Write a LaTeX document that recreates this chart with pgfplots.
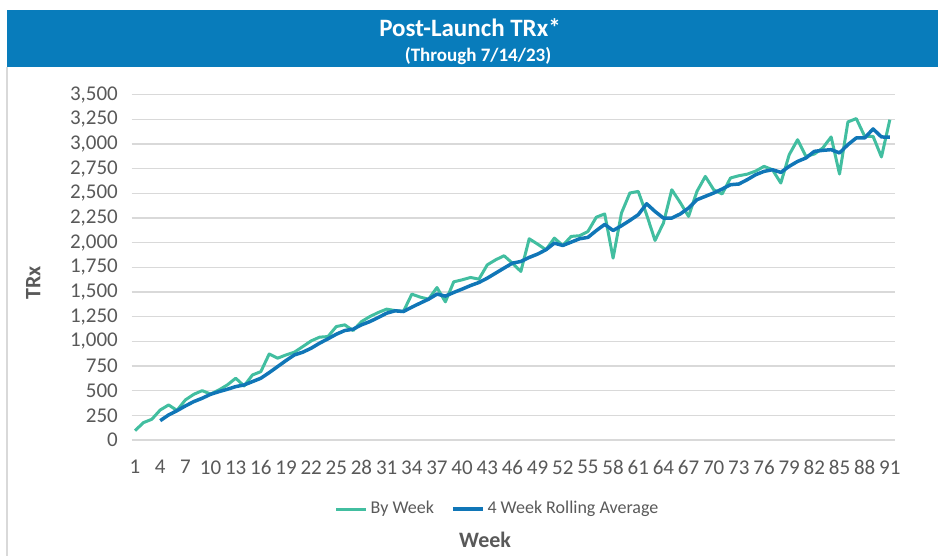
\documentclass[border=0pt]{standalone}
\usepackage{pgfplots}
\pgfplotsset{compat=1.18}
\usepackage{fontspec}
\setmainfont{Carlito}

\definecolor{banner}{RGB}{8,124,187}
\definecolor{weekc}{RGB}{66,190,160}
\definecolor{avgc}{RGB}{16,118,183}
\definecolor{txt}{RGB}{89,89,89}
\definecolor{gridc}{RGB}{217,217,217}

\begin{document}
\begin{tikzpicture}
\useasboundingbox (0,0) rectangle (469pt,-278pt);
% title banner
\fill[banner] (3.5pt,-5pt) rectangle (469pt,-33.5pt);
\node[text=white, font=\fontsize{12.5}{14}\selectfont\bfseries] at (235pt,-14pt) {Post-Launch TRx*};
\node[text=white, font=\fontsize{9.5}{11}\selectfont\bfseries] at (239pt,-28pt) {(Through 7/14/23)};
\draw[gridc, line width=0.6pt] (3.5pt,-33.5pt) -- (3.5pt,-278pt);

\begin{axis}[
  at={(65.85pt,-220pt)}, anchor=south west,
  scale only axis, width=381.6pt, height=172.7pt,
  xmin=0.6, xmax=91.6, ymin=0, ymax=3500,
  xtick={1,4,...,91}, ytick={0,250,...,3500},
  ymajorgrids, grid style={gridc, line width=0.75pt},
  axis x line*=bottom, axis y line*=left,
  axis line style={draw=none},
  major tick length=0pt,
  ticklabel style={font=\fontsize{10.5}{12}\selectfont, text=txt},
  yticklabel style={xshift=-3.4pt},
  xticklabel style={yshift=-6.7pt},
  /pgf/number format/1000 sep={,},
  /pgf/number format/assume math mode=true,
  xlabel={Week}, ylabel={TRx},
  label style={font=\fontsize{11}{13}\selectfont\bfseries, text=txt},
  xlabel style={at={(axis description cs:0.463,-0.29)}, anchor=center},
  ylabel style={at={(axis description cs:-0.129,0.455)}, anchor=center},
  legend style={draw=none, fill=none, legend columns=2,
    at={(0.48,-0.2)}, anchor=center,
    font=\fontsize{9}{10}\selectfont, text=txt,
    nodes={inner sep=1.5pt},
    /tikz/every even column/.append style={column sep=7pt}},
  legend image code/.code={\draw[#1] (0pt,0pt) -- (15pt,0pt);},
]
\addplot[weekc, line width=1.5pt, line join=round, no markers] coordinates {
(1,95)(2,176)(3,210)(4,304)(5,355)(6,300)(7,406)(8,463)(9,500)(10,466)
(11,507)(12,558)(13,626)(14,548)(15,659)(16,693)(17,872)(18,829)(19,862)(20,890)
(21,947)(22,1004)(23,1042)(24,1048)(25,1150)(26,1167)(27,1109)(28,1200)(29,1251)(30,1292)
(31,1326)(32,1312)(33,1302)(34,1478)(35,1448)(36,1427)(37,1545)(38,1400)(39,1603)(40,1623)
(41,1647)(42,1630)(43,1775)(44,1826)(45,1867)(46,1792)(47,1708)(48,2039)(49,1985)(50,1928)
(51,2046)(52,1971)(53,2063)(54,2070)(55,2113)(56,2258)(57,2291)(58,1843)(59,2300)(60,2503)
(61,2519)(62,2283)(63,2022)(64,2198)(65,2536)(66,2407)(67,2266)(68,2519)(69,2671)(70,2536)
(71,2493)(72,2655)(73,2678)(74,2694)(75,2725)(76,2773)(77,2739)(78,2604)(79,2891)(80,3043)
(81,2874)(82,2898)(83,2959)(84,3071)(85,2695)(86,3223)(87,3257)(88,3077)(89,3077)(90,2868)
(91,3246)
};
\addlegendentry{By Week}
\addplot[avgc, line width=1.75pt, line join=round, no markers] coordinates {
(4,196)(5,254)(6,297)(7,345)(8,389)(9,423)(10,463)
(11,490)(12,514)(13,541)(14,558)(15,592)(16,626)(17,683)(18,744)(19,805)(20,862)
(21,890)(22,930)(23,981)(24,1025)(25,1072)(26,1109)(27,1123)(28,1167)(29,1200)(30,1241)
(31,1285)(32,1309)(33,1302)(34,1346)(35,1387)(36,1427)(37,1478)(38,1458)(39,1495)(40,1529)
(41,1565)(42,1596)(43,1640)(44,1691)(45,1742)(46,1792)(47,1809)(48,1850)(49,1884)(50,1928)
(51,1995)(52,1971)(53,2005)(54,2039)(55,2053)(56,2122)(57,2185)(58,2123)(59,2171)(60,2225)
(61,2283)(62,2394)(63,2316)(64,2249)(65,2249)(66,2290)(67,2351)(68,2435)(69,2469)(70,2503)
(71,2543)(72,2587)(73,2594)(74,2638)(75,2688)(76,2722)(77,2739)(78,2712)(79,2773)(80,2823)
(81,2858)(82,2925)(83,2935)(84,2942)(85,2909)(86,2993)(87,3061)(88,3061)(89,3152)(90,3071)
(91,3068)
};
\addlegendentry{4 Week Rolling Average}
\end{axis}
\end{tikzpicture}
\end{document}
